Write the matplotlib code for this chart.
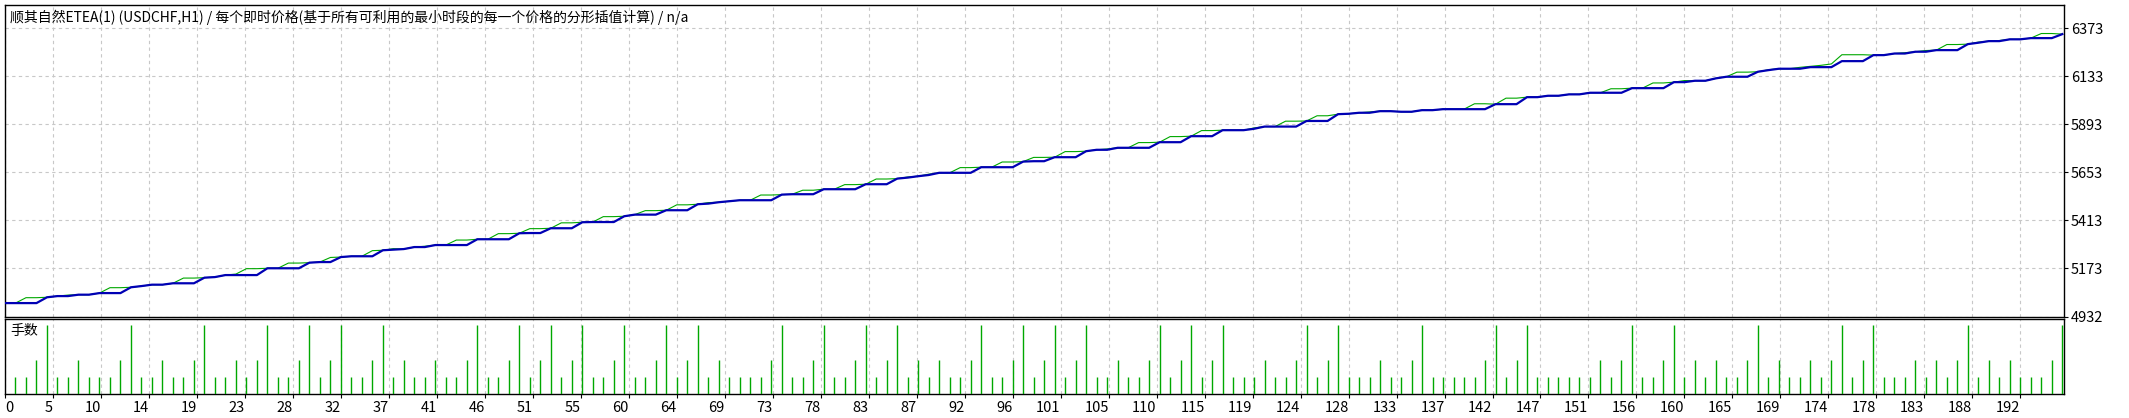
import matplotlib
matplotlib.use("Agg")
import matplotlib.pyplot as plt

plt.rcParams['font.family'] = ['Noto Sans CJK SC', 'DejaVu Sans']

title = "顺其自然ETEA(1) (USDCHF,H1) / 每个即时价格(基于所有可利用的最小时段的每一个价格的分形插值计算) / n/a"
lot_title = "手数"

# balance after each deal, deal 0..196
balance = [
    5000, 5000, 5000, 5000, 5029, 5035, 5035, 5042, 5042, 5050,
    5050, 5050, 5079, 5085, 5092, 5092, 5099, 5099, 5099, 5127,
    5130, 5140, 5140, 5140, 5140, 5174, 5174, 5174, 5174, 5202,
    5205, 5205, 5230, 5234, 5234, 5234, 5264, 5267, 5270, 5280,
    5280, 5290, 5290, 5290, 5290, 5319, 5319, 5319, 5319, 5349,
    5350, 5350, 5374, 5374, 5374, 5404, 5405, 5405, 5405, 5434,
    5442, 5442, 5442, 5464, 5464, 5464, 5494, 5497, 5504, 5509,
    5514, 5514, 5514, 5514, 5542, 5544, 5544, 5544, 5569, 5569,
    5569, 5569, 5594, 5594, 5594, 5622, 5627, 5634, 5640, 5651,
    5651, 5651, 5651, 5679, 5679, 5679, 5679, 5707, 5709, 5709,
    5729, 5729, 5729, 5759, 5766, 5766, 5776, 5776, 5776, 5776,
    5804, 5804, 5804, 5834, 5834, 5834, 5864, 5864, 5864, 5871,
    5882, 5882, 5882, 5882, 5910, 5910, 5910, 5944, 5946, 5951,
    5951, 5959, 5959, 5956, 5956, 5964, 5964, 5969, 5969, 5969,
    5969, 5969, 5994, 5994, 5994, 6029, 6029, 6036, 6036, 6043,
    6043, 6051, 6051, 6051, 6051, 6074, 6074, 6074, 6074, 6104,
    6104, 6111, 6111, 6123, 6131, 6131, 6131, 6156, 6164, 6171,
    6171, 6171, 6179, 6179, 6179, 6209, 6209, 6209, 6239, 6239,
    6247, 6247, 6256, 6256, 6264, 6264, 6264, 6294, 6301, 6309,
    6309, 6318, 6318, 6324, 6324, 6324, 6344,
]

equity = [
    5000, 5000, 5027, 5027, 5029, 5035, 5040, 5042, 5042, 5050,
    5077, 5077, 5079, 5085, 5092, 5092, 5099, 5125, 5125, 5127,
    5130, 5140, 5145, 5172, 5172, 5174, 5174, 5200, 5200, 5202,
    5205, 5228, 5230, 5234, 5234, 5262, 5264, 5272, 5270, 5280,
    5284, 5290, 5290, 5315, 5315, 5319, 5319, 5347, 5347, 5349,
    5372, 5372, 5374, 5401, 5401, 5404, 5405, 5432, 5432, 5434,
    5442, 5462, 5462, 5464, 5491, 5491, 5494, 5502, 5504, 5509,
    5514, 5514, 5540, 5540, 5542, 5544, 5564, 5564, 5569, 5569,
    5592, 5592, 5594, 5620, 5620, 5622, 5630, 5634, 5644, 5651,
    5651, 5677, 5677, 5679, 5679, 5705, 5705, 5707, 5728, 5728,
    5729, 5757, 5757, 5759, 5766, 5770, 5776, 5776, 5802, 5802,
    5804, 5832, 5832, 5834, 5862, 5862, 5864, 5864, 5864, 5875,
    5882, 5882, 5909, 5909, 5910, 5936, 5936, 5944, 5946, 5951,
    5955, 5959, 5959, 5956, 5956, 5964, 5964, 5969, 5969, 5969,
    5996, 5996, 5994, 6024, 6024, 6029, 6029, 6036, 6036, 6043,
    6043, 6051, 6051, 6071, 6071, 6074, 6074, 6100, 6100, 6104,
    6112, 6111, 6111, 6123, 6131, 6154, 6154, 6156, 6166, 6171,
    6171, 6178, 6183, 6188, 6195, 6241, 6241, 6241, 6239, 6239,
    6247, 6251, 6256, 6262, 6264, 6292, 6292, 6294, 6304, 6309,
    6312, 6318, 6318, 6324, 6347, 6347, 6344,
]

# lot size of deals 1..196
lots = [
    0.01, 0.01, 0.02, 0.04, 0.01, 0.01, 0.02, 0.01, 0.01, 0.01,
    0.02, 0.04, 0.01, 0.01, 0.02, 0.01, 0.01, 0.02, 0.04, 0.01,
    0.01, 0.02, 0.01, 0.02, 0.04, 0.01, 0.01, 0.02, 0.04, 0.01,
    0.02, 0.04, 0.01, 0.01, 0.02, 0.04, 0.01, 0.02, 0.01, 0.01,
    0.02, 0.01, 0.01, 0.02, 0.04, 0.01, 0.01, 0.02, 0.04, 0.01,
    0.02, 0.04, 0.01, 0.02, 0.04, 0.01, 0.01, 0.02, 0.04, 0.01,
    0.01, 0.02, 0.04, 0.01, 0.02, 0.04, 0.01, 0.02, 0.01, 0.01,
    0.01, 0.01, 0.02, 0.04, 0.01, 0.01, 0.02, 0.04, 0.01, 0.01,
    0.02, 0.04, 0.01, 0.02, 0.04, 0.01, 0.02, 0.01, 0.02, 0.01,
    0.01, 0.02, 0.04, 0.01, 0.01, 0.02, 0.04, 0.01, 0.02, 0.04,
    0.01, 0.02, 0.04, 0.01, 0.01, 0.02, 0.01, 0.01, 0.02, 0.04,
    0.01, 0.02, 0.04, 0.01, 0.02, 0.04, 0.01, 0.01, 0.01, 0.02,
    0.01, 0.01, 0.02, 0.04, 0.01, 0.02, 0.04, 0.01, 0.01, 0.01,
    0.02, 0.01, 0.01, 0.02, 0.04, 0.01, 0.01, 0.01, 0.01, 0.01,
    0.02, 0.04, 0.01, 0.02, 0.04, 0.01, 0.01, 0.01, 0.01, 0.01,
    0.01, 0.02, 0.01, 0.02, 0.04, 0.01, 0.01, 0.02, 0.04, 0.01,
    0.02, 0.01, 0.02, 0.01, 0.01, 0.02, 0.04, 0.01, 0.02, 0.01,
    0.01, 0.02, 0.01, 0.02, 0.04, 0.01, 0.02, 0.04, 0.01, 0.01,
    0.01, 0.02, 0.01, 0.02, 0.01, 0.02, 0.04, 0.01, 0.02, 0.01,
    0.02, 0.01, 0.01, 0.01, 0.02, 0.04,
]

x_labels = ["0", "5", "10", "14", "19", "23", "28", "32", "37", "41", "46",
            "51", "55", "60", "64", "69", "73", "78", "83", "87", "92", "96",
            "101", "105", "110", "115", "119", "124", "128", "133", "137",
            "142", "147", "151", "156", "160", "165", "169", "174", "178",
            "183", "188", "192"]
y_labels = [4932, 5173, 5413, 5653, 5893, 6133, 6373]

W, H = 2129, 418
fig = plt.figure(figsize=(W / 100, H / 100), dpi=100)
fig.patch.set_facecolor("white")

def frac(l, t, r, b):
    return [l / W, 1 - b / H, (r - l) / W, (b - t) / H]

ax1 = fig.add_axes(frac(5, 4.7, 2064, 316.7))
ax2 = fig.add_axes(frac(5, 319.3, 2064, 394.3))

grid_col = "#c8c8c8"
blue = "#0000b4"
green = "#00a800"
x_ticks = [k * 32 / 7 for k in range(len(x_labels))]

# top: balance / equity
ax1.plot(range(len(equity)), equity, color=green, lw=0.8, zorder=3)
ax1.plot(range(len(balance)), balance, color=blue, lw=1.6, zorder=4)
ax1.set_xlim(0, 196.16)
ax1.set_ylim(4932, 6491)
ax1.set_yticks(y_labels)
ax1.set_yticklabels([str(v) for v in y_labels])
ax1.yaxis.tick_right()
ax1.set_xticks(x_ticks)
ax1.tick_params(axis="x", length=0, labelbottom=False)
ax1.tick_params(axis="y", length=3, width=0.8, pad=2, labelsize=10.5)
ax1.grid(True, color=grid_col, linestyle=(0, (3, 3)), lw=0.8)

# bottom: lots
ax2.vlines(range(1, len(lots) + 1), 0, lots, color=green, lw=1.0, zorder=3)
ax2.set_xlim(0, 196.16)
ax2.set_ylim(0, 0.0433)
ax2.set_yticks([])
ax2.set_xticks(x_ticks)
ax2.set_xticklabels(x_labels)
ax2.tick_params(axis="x", length=3, width=0.8, pad=1.5, labelsize=10.5)
for i, lab in enumerate(ax2.get_xticklabels()):
    lab.set_horizontalalignment("left" if i == 0 else "right")
ax2.grid(True, axis="x", color=grid_col, linestyle=(0, (3, 3)), lw=0.8)

for ax in (ax1, ax2):
    ax.set_axisbelow(True)
    for s in ax.spines.values():
        s.set_color("black")
        s.set_linewidth(1.0)

fig.text(10 / W, 1 - 17 / H, title, fontsize=10, va="center", ha="left")
fig.text(10 / W, 1 - 331.5 / H, lot_title, fontsize=10, va="center", ha="left")

fig.savefig("out.png", dpi=100)
